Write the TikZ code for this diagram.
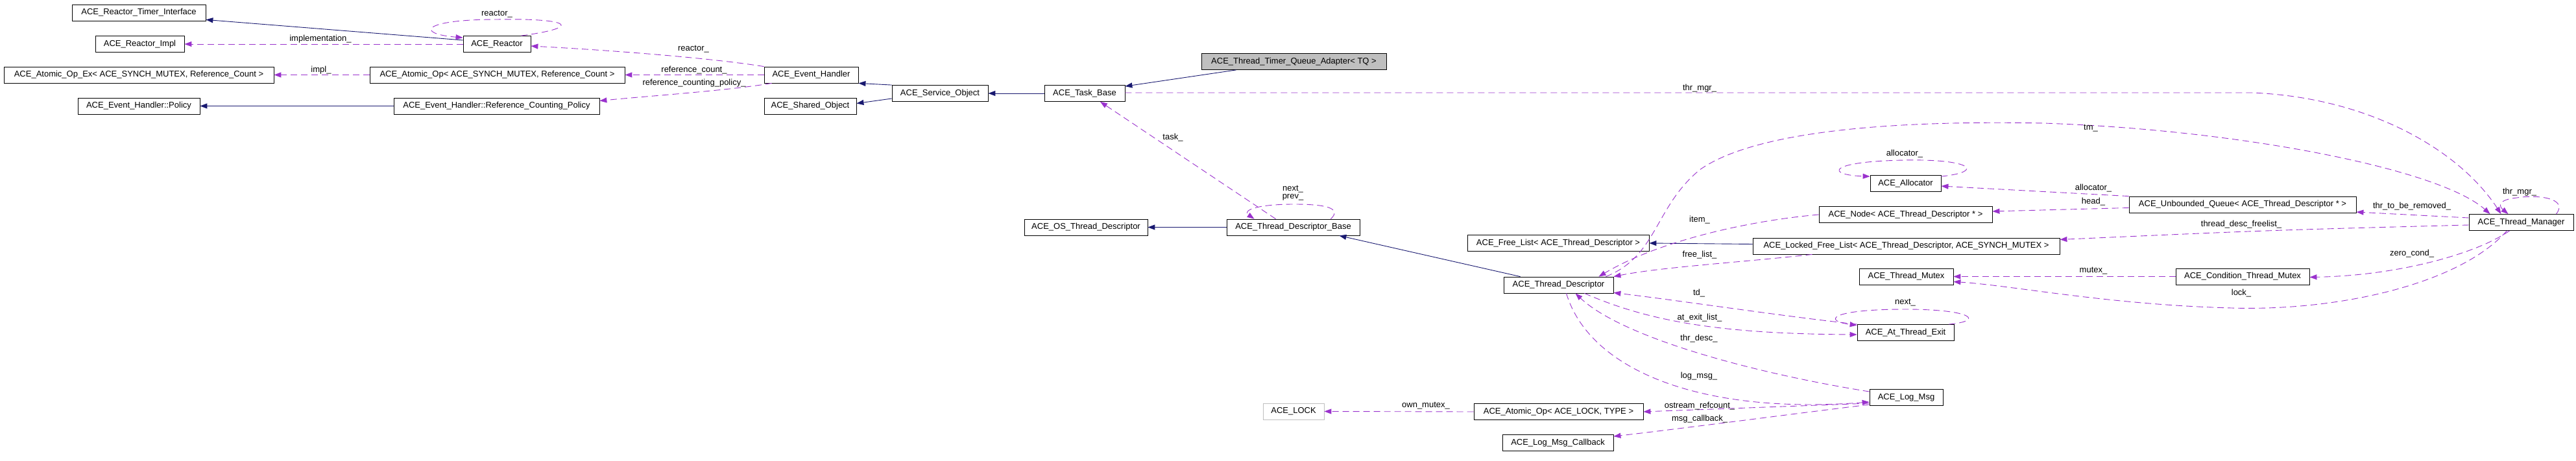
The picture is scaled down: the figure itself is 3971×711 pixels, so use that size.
\documentclass[tikz,border=0pt]{standalone}
\usepackage{fontspec}
\setmainfont{Liberation Sans}
\usetikzlibrary{positioning}
\usetikzlibrary{arrows.meta}
\definecolor{navy}{HTML}{191970}
\definecolor{orchid}{HTML}{9A32CD}
\definecolor{grayfill}{HTML}{BFBFBF}
\begin{document}
\begin{tikzpicture}[x=1pt, y=-1pt,
	cls/.style={draw, inner sep=0pt, minimum height=25pt, line width=0.8pt, font=\fontsize{13}{15}\selectfont},
	inh/.style={draw=navy, line width=0.9pt, -{Triangle[length=11pt,width=8pt]}},
	use/.style={draw=orchid, line width=0.9pt, dash pattern=on 10pt off 6pt, -{Triangle[length=11pt,width=8pt]}},
	lbl/.style={font=\fontsize{13}{15}\selectfont, inner sep=1pt, text=black}]
			\useasboundingbox (0,0) rectangle (3971,711);
			
			% left column
			\node[cls, minimum width=206pt] (timerif) at (214,19.5) {ACE\_Reactor\_Timer\_Interface};
			\node[cls, minimum width=137pt] (rimpl) at (215.5,68) {ACE\_Reactor\_Impl};
			\node[cls, minimum width=416pt] (opex) at (214,115.5) {ACE\_Atomic\_Op\_Ex< ACE\_SYNCH\_MUTEX, Reference\_Count >};
			\node[cls, minimum width=188pt] (policy) at (214,163.5) {ACE\_Event\_Handler::Policy};
			
			\node[cls, minimum width=104pt] (reactor) at (766,68) {ACE\_Reactor};
			\node[cls, minimum width=393pt] (atomop) at (766.5,115.5) {ACE\_Atomic\_Op< ACE\_SYNCH\_MUTEX, Reference\_Count >};
			\node[cls, minimum width=317pt] (refpol) at (765.5,163.5) {ACE\_Event\_Handler::Reference\_Counting\_Policy};
			
			\node[cls, minimum width=145pt] (evh) at (1250.5,115.5) {ACE\_Event\_Handler};
			\node[cls, minimum width=142pt] (shobj) at (1249,163.5) {ACE\_Shared\_Object};
			\node[cls, minimum width=148pt] (svcobj) at (1449,144) {ACE\_Service\_Object};
			\node[cls, minimum width=124pt] (taskb) at (1672,144) {ACE\_Task\_Base};
			\node[cls, minimum width=285pt, fill=grayfill] (adapter) at (1994.5,95) {ACE\_Thread\_Timer\_Queue\_Adapter< TQ >};
			
			% middle
			\node[cls, minimum width=190pt] (osdesc) at (1674,350.5) {ACE\_OS\_Thread\_Descriptor};
			\node[cls, minimum width=205pt] (tdbase) at (1993.5,350.5) {ACE\_Thread\_Descriptor\_Base};
			\node[cls, minimum width=280pt] (freelist) at (2402,375) {ACE\_Free\_List< ACE\_Thread\_Descriptor >};
			\node[cls, minimum width=169pt] (tdesc) at (2402.5,439.5) {ACE\_Thread\_Descriptor};
			\node[cls, minimum width=94pt, draw=grayfill] (lock) at (1994,634.5) {ACE\_LOCK};
			\node[cls, minimum width=261pt] (oplock) at (2402.5,635) {ACE\_Atomic\_Op< ACE\_LOCK, TYPE >};
			\node[cls, minimum width=171pt] (callback) at (2401.5,683) {ACE\_Log\_Msg\_Callback};
			
			% right
			\node[cls, minimum width=109pt] (allocator) at (2937.5,283) {ACE\_Allocator};
			\node[cls, minimum width=267pt] (node) at (2937.5,331) {ACE\_Node< ACE\_Thread\_Descriptor * >};
			\node[cls, minimum width=473pt] (locked) at (2938.5,379.5) {ACE\_Locked\_Free\_List< ACE\_Thread\_Descriptor, ACE\_SYNCH\_MUTEX >};
			\node[cls, minimum width=145pt] (tmutex) at (2938.5,426.5) {ACE\_Thread\_Mutex};
			\node[cls, minimum width=149pt] (atexit) at (2937.5,513) {ACE\_At\_Thread\_Exit};
			\node[cls, minimum width=113pt] (logmsg) at (2938.5,613) {ACE\_Log\_Msg};
			\node[cls, minimum width=350pt] (queue) at (3457,315.5) {ACE\_Unbounded\_Queue< ACE\_Thread\_Descriptor * >};
			\node[cls, minimum width=206pt] (cond) at (3457,426.5) {ACE\_Condition\_Thread\_Mutex};
			\node[cls, minimum width=161pt] (tmgr) at (3886.5,343) {ACE\_Thread\_Manager};
			
			% inheritance
			\draw[inh] ([yshift=6pt]reactor.west) -- ([yshift=2pt]timerif.south east);
			\draw[inh] (refpol.west) -- (policy.east);
			\draw[inh] (svcobj.north west) -- (evh.south east);
			\draw[inh] ([yshift=-8pt]svcobj.west) -- ([yshift=4pt]shobj.east);
			\draw[inh] (taskb.west) -- (svcobj.east);
			\draw[inh] ([xshift=54pt]adapter.south west) -- ([yshift=-2pt]taskb.north east);
			\draw[inh] (tdbase.west) -- (osdesc.east);
			\draw[inh] ([xshift=26pt]tdesc.north west) -- ([xshift=-32pt]tdbase.south east);
			\draw[inh] ([yshift=3pt]locked.west) -- (freelist.east);
			
			% members
			\draw[use] ([xshift=-15pt]reactor.north east) .. controls (900,42) and (880,28) .. (766,30)
				.. controls (650,30) and (640,52) .. ([yshift=-3pt]reactor.north west) node[lbl] at (766,22) {reactor\_};
			\draw[use] (reactor.west) -- (rimpl.east) node[lbl] at (494,60) {implementation\_};
			\draw[use] (evh.north west) .. controls (1100,90) and (950,78) .. ([yshift=-3pt]reactor.east) node[lbl] at (1069,76) {reactor\_};
			\draw[use] (evh.west) -- (atomop.east) node[lbl] at (1070,108) {reference\_count\_};
			\draw[use] ([xshift=12pt]evh.south west) .. controls (1120,140) and (1000,148) .. ([yshift=8pt]refpol.east)
				node[lbl] at (1070,128) {reference\_counting\_policy\_};
			\draw[use] (atomop.west) -- (opex.east) node[lbl] at (495,108) {impl\_};
			\draw[use] ([yshift=1pt]taskb.east) -- (3471,143) .. controls (3650,150) and (3790,230) .. ([xshift=-31pt]tmgr.north)
				node[lbl] at (2620,136) {thr\_mgr\_};
			\draw[use] ([xshift=-27pt]tdbase.north) -- ([xshift=24pt]taskb.south) node[lbl] at (1808,212) {task\_};
			\draw[use] ([xshift=58pt]tdbase.north) .. controls (2070,320) and (2040,315) .. (1995,315)
				.. controls (1935,315) and (1915,325) .. ([xshift=-60pt]tdbase.north);
			\node[lbl] (nextlbl) at (1993,292) {next\_};
			\node[lbl, below=1pt of nextlbl.south, anchor=north, inner sep=0pt] (prevlbl) {prev\_};
			\draw[use] ([xshift=-12pt]tdesc.north east) .. controls (2555,395) and (2550,320) .. (2620,262)
				.. controls (2700,205) and (2900,185) .. (3150,190)
				.. controls (3450,200) and (3760,260) .. ([xshift=-48pt]tmgr.north) node[lbl] at (3223,198) {tm\_};
			\draw[use] ([xshift=54pt]tmgr.north) .. controls (3960,305) and (3910,300) .. (3880,305)
				.. controls (3850,308) and (3852,318) .. ([xshift=-20pt]tmgr.north) node[lbl] at (3884,296) {thr\_mgr\_};
			\draw[use] (node.west) .. controls (2700,340) and (2560,370) .. ([xshift=62pt]tdesc.north) node[lbl] at (2620,339) {item\_};
			\draw[use] ([xshift=-145pt]locked.south) .. controls (2680,405) and (2560,412) .. (tdesc.north east)
				node[lbl] at (2620,393) {free\_list\_};
			\draw[use] ([yshift=-2pt]allocator.north east) .. controls (3060,265) and (3040,245) .. (2936,247)
				.. controls (2815,249) and (2815,270) .. ([yshift=-2pt]allocator.north west) node[lbl] at (2936,237) {allocator\_};
			\draw[use] (queue.north west) -- ([yshift=-4pt]allocator.east) node[lbl] at (3227,290) {allocator\_};
			\draw[use] ([yshift=-5pt]queue.west) -- ([yshift=5pt]node.east) node[lbl] at (3227,311) {head\_};
			\draw[use] ([yshift=7pt]tmgr.west) -- ([yshift=-11.5pt]queue.east) node[lbl] at (3718,318) {thr\_to\_be\_removed\_};
			\draw[use] ([yshift=-4pt]tmgr.west) .. controls (3500,355) .. ([yshift=10pt]locked.east)
				node[lbl] at (3455,346) {thread\_desc\_freelist\_};
			\draw[use] ([xshift=-18pt]tmgr.south) .. controls (3820,390) and (3700,425) .. ([yshift=-1pt]cond.east)
				node[lbl] at (3718,391) {zero\_cond\_};
			\draw[use] (cond.west) -- (tmutex.east) node[lbl] at (3227,418) {mutex\_};
			\draw[use] ([xshift=-22pt]tmgr.south) .. controls (3790,440) and (3600,480) .. (3440,475)
				.. controls (3250,470) and (3100,440) .. ([yshift=-8pt]tmutex.east) node[lbl] at (3455,452) {lock\_};
			\draw[use] (atexit.north west) .. controls (2750,488) and (2600,465) .. ([yshift=1pt]tdesc.south east)
				node[lbl] at (2619,452) {td\_};
			\draw[use] ([xshift=-8pt]atexit.north east) .. controls (3060,495) and (3040,477) .. (2937,477)
				.. controls (2820,477) and (2810,495) .. ([yshift=-1.5pt]atexit.north west) node[lbl] at (2937,467) {next\_};
			\draw[use] ([xshift=40pt]tdesc.south) .. controls (2540,495) and (2650,515) .. ([yshift=-3pt]atexit.west)
				node[lbl] at (2620,490) {at\_exit\_list\_};
			\draw[use] ([yshift=9pt]logmsg.west) .. controls (2700,575) and (2500,520) .. ([xshift=26pt]tdesc.south)
				node[lbl] at (2619,522) {thr\_desc\_};
			\draw[use] ([xshift=12pt]tdesc.south) .. controls (2450,570) and (2620,640) .. ([yshift=-7pt]logmsg.west)
				node[lbl] at (2619,580) {log\_msg\_};
			\draw[use] ([yshift=-9pt]logmsg.west) -- (oplock.east) node[lbl] at (2620,626) {ostream\_refcount\_};
			\draw[use] ([yshift=-11pt]logmsg.west) .. controls (2750,640) and (2600,660) .. ([yshift=10pt]callback.east)
				node[lbl] at (2620,646) {msg\_callback\_};
			\draw[use] (oplock.west) -- (lock.east) node[lbl] at (2198,626) {own\_mutex\_};
		\end{tikzpicture}
\end{document}
